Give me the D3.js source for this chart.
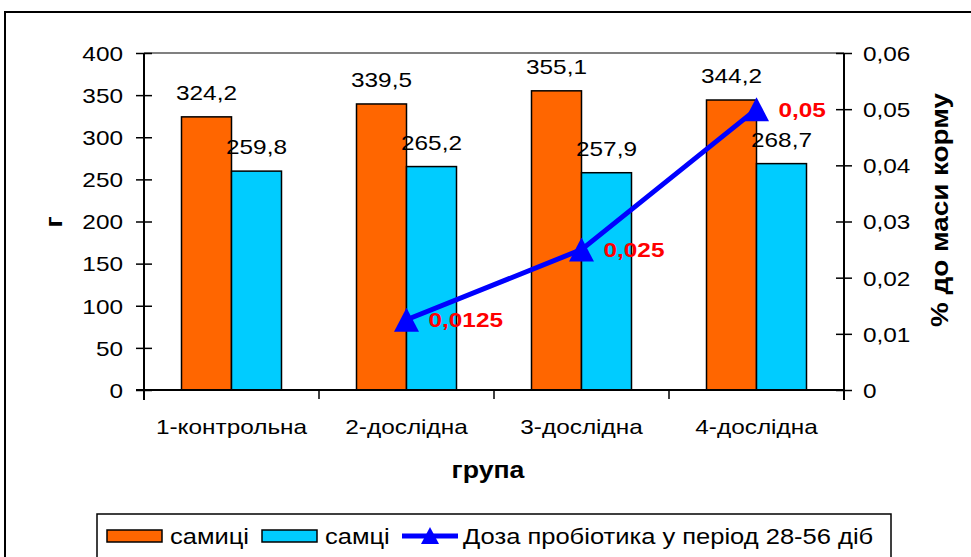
<!DOCTYPE html>
<html><head><meta charset="utf-8">
<script src="https://cdn.jsdelivr.net/npm/d3@7"></script>
<style>body{margin:0;background:#fff}svg{display:block}text{font-family:"Liberation Sans",Arial,sans-serif}</style>
</head><body>
<script>
const categories = ["1-контрольна","2-дослідна","3-дослідна","4-дослідна"];
const females = [324.2, 339.5, 355.1, 344.2];
const males = [259.8, 265.2, 257.9, 268.7];
const dose = [null, 0.0125, 0.025, 0.05];
const doseLabels = [null, "0,0125", "0,025", "0,05"];
const leftTicks = [0,50,100,150,200,250,300,350,400];
const rightTicks = [0,0.01,0.02,0.03,0.04,0.05,0.06];
const seriesNames = ["самиці","самці","Доза пробіотика у період 28-56 діб"];
const colors = {f:"#FF6600", m:"#00CCFF", line:"#0000FF", lab:"#FF0000"};

const W=971,H=557, K=1.16, FS=21;
const svg=d3.select("body").append("svg").attr("width",W).attr("height",H);
const L=144,R=844,T=53,B=390;
const x0=d3.scaleBand().domain(categories).range([L,R]).padding(0);
const x1=d3.scaleBand().domain(["f","m"]).range([0,x0.bandwidth()]).paddingInner(0).paddingOuter(0.75);
const yL=d3.scaleLinear().domain([0,400]).range([B,T]);
const yR=d3.scaleLinear().domain([0,0.06]).range([B,T]);
const loc=d3.formatLocale({decimal:",",thousands:" ",grouping:[3],currency:["",""]});
const fmt=v=>v===0?"0":loc.format(".2f")(v);
const fmt1=loc.format(".1f");

function txt(g,s,x,y,opt={}){
  const t=g.append("text").attr("transform",`translate(${x},${y})${opt.rot?` rotate(${opt.rot})`:""} scale(${K},1)`)
   .attr("font-size",opt.fs||FS).attr("text-anchor",opt.anchor||"middle").attr("fill",opt.fill||"#000")
   .attr("font-weight",opt.bold?"bold":"normal").text(s);
  if(opt.dy) t.attr("dy",opt.dy);
  return t;
}

// outer border
svg.append("rect").attr("x",5).attr("y",12).attr("width",1000).attr("height",600).attr("fill","none").attr("stroke","#000").attr("stroke-width",2);

// top plot border
svg.append("line").attr("x1",L).attr("x2",R).attr("y1",T).attr("y2",T).attr("stroke","#808080").attr("stroke-width",2);

// bars
const gb=svg.append("g");
categories.forEach((c,i)=>{
  [["f",females[i]],["m",males[i]]].forEach(([k,v])=>{
    gb.append("rect").attr("x",x0(c)+x1(k)).attr("y",yL(v)).attr("width",x1.bandwidth()).attr("height",B-yL(v))
      .attr("fill",colors[k]).attr("stroke","#000").attr("stroke-width",1.5);
    txt(gb,fmt1(v),x0(c)+x1(k)+x1.bandwidth()/2,yL(v)-17);
  });
});

// axes
const axL=svg.append("g").attr("transform",`translate(${L},0)`).call(d3.axisLeft(yL).tickValues(leftTicks).tickSize(8).tickFormat(d=>d));
const axR=svg.append("g").attr("transform",`translate(${R},0)`).call(d3.axisRight(yR).tickValues(rightTicks).tickSize(8).tickFormat(fmt));
[axL,axR].forEach(a=>{a.select(".domain").attr("stroke","#000").attr("stroke-width",2).attr("d",`M0,${T}V${B+10}`);
  a.selectAll(".tick line").attr("stroke","#000").attr("stroke-width",1.5);});
axL.selectAll(".tick line").attr("x1",-8).attr("x2",8);
axR.selectAll(".tick line").attr("x1",-8).attr("x2",8);
axL.selectAll(".tick text").attr("x",null).attr("dy","0.35em").attr("font-size",FS).attr("font-family",null).attr("fill","#000").attr("transform",`translate(-21,0) scale(${K},1)`);
axR.selectAll(".tick text").attr("x",null).attr("dy","0.35em").attr("font-size",FS).attr("font-family",null).attr("fill","#000").attr("transform",`translate(19,0) scale(${K},1)`);
axL.attr("font-family",null); axR.attr("font-family",null);

const axB=svg.append("g").attr("transform",`translate(0,${B})`).call(d3.axisBottom(x0).tickSize(0).tickFormat(""));
axB.select(".domain").attr("stroke","#000").attr("stroke-width",2).attr("d",`M${L-8},0H${R}`);
axB.selectAll(".tick").remove();
const bounds=categories.map(c=>x0(c)).concat([R]);
bounds.forEach(bx=>svg.append("line").attr("x1",bx).attr("x2",bx).attr("y1",B).attr("y2",B+9).attr("stroke","#000").attr("stroke-width",1.5));
categories.forEach(c=>txt(svg,c,x0(c)+x0.bandwidth()/2,434));

// titles
txt(svg,"група",488,478,{bold:true,fs:23});
txt(svg,"г",62,222,{bold:true,rot:-90,fs:23});
txt(svg,"% до маси корму",948,210,{bold:true,rot:-90,fs:24});

// line
const pts=categories.map((c,i)=>({x:x0(c)+x0.bandwidth()/2,v:dose[i],l:doseLabels[i]})).filter(p=>p.v!=null);
svg.append("path").datum(pts).attr("fill","none").attr("stroke",colors.line).attr("stroke-width",5)
  .attr("d",d3.line().x(p=>p.x).y(p=>yR(p.v)));
pts.forEach(p=>{
  const cx=p.x, cy=yR(p.v);
  svg.append("path").attr("d",`M${cx},${cy-12}L${cx+12.5},${cy+12}L${cx-12.5},${cy+12}Z`).attr("fill",colors.line);
  txt(svg,p.l,cx+22,cy,{anchor:"start",bold:true,fill:colors.lab,dy:"0.35em"});
});

// legend
const lg=svg.append("g");
lg.append("rect").attr("x",97).attr("y",514).attr("width",794).attr("height",100).attr("fill","#fff").attr("stroke","#000").attr("stroke-width",1.5);
lg.append("rect").attr("x",107).attr("y",530).attr("width",55).attr("height",12).attr("fill",colors.f).attr("stroke","#000").attr("stroke-width",1.5);
txt(lg,seriesNames[0],170,544,{anchor:"start",fs:22});
lg.append("rect").attr("x",262).attr("y",530).attr("width",55).attr("height",12).attr("fill",colors.m).attr("stroke","#000").attr("stroke-width",1.5);
txt(lg,seriesNames[1],325,544,{anchor:"start",fs:22});
lg.append("line").attr("x1",402).attr("x2",458).attr("y1",536).attr("y2",536).attr("stroke",colors.line).attr("stroke-width",5);
lg.append("path").attr("d","M430,527L439,544L421,544Z").attr("fill",colors.line);
txt(lg,seriesNames[2],463,544,{anchor:"start",fs:22});
</script>
</body></html>
